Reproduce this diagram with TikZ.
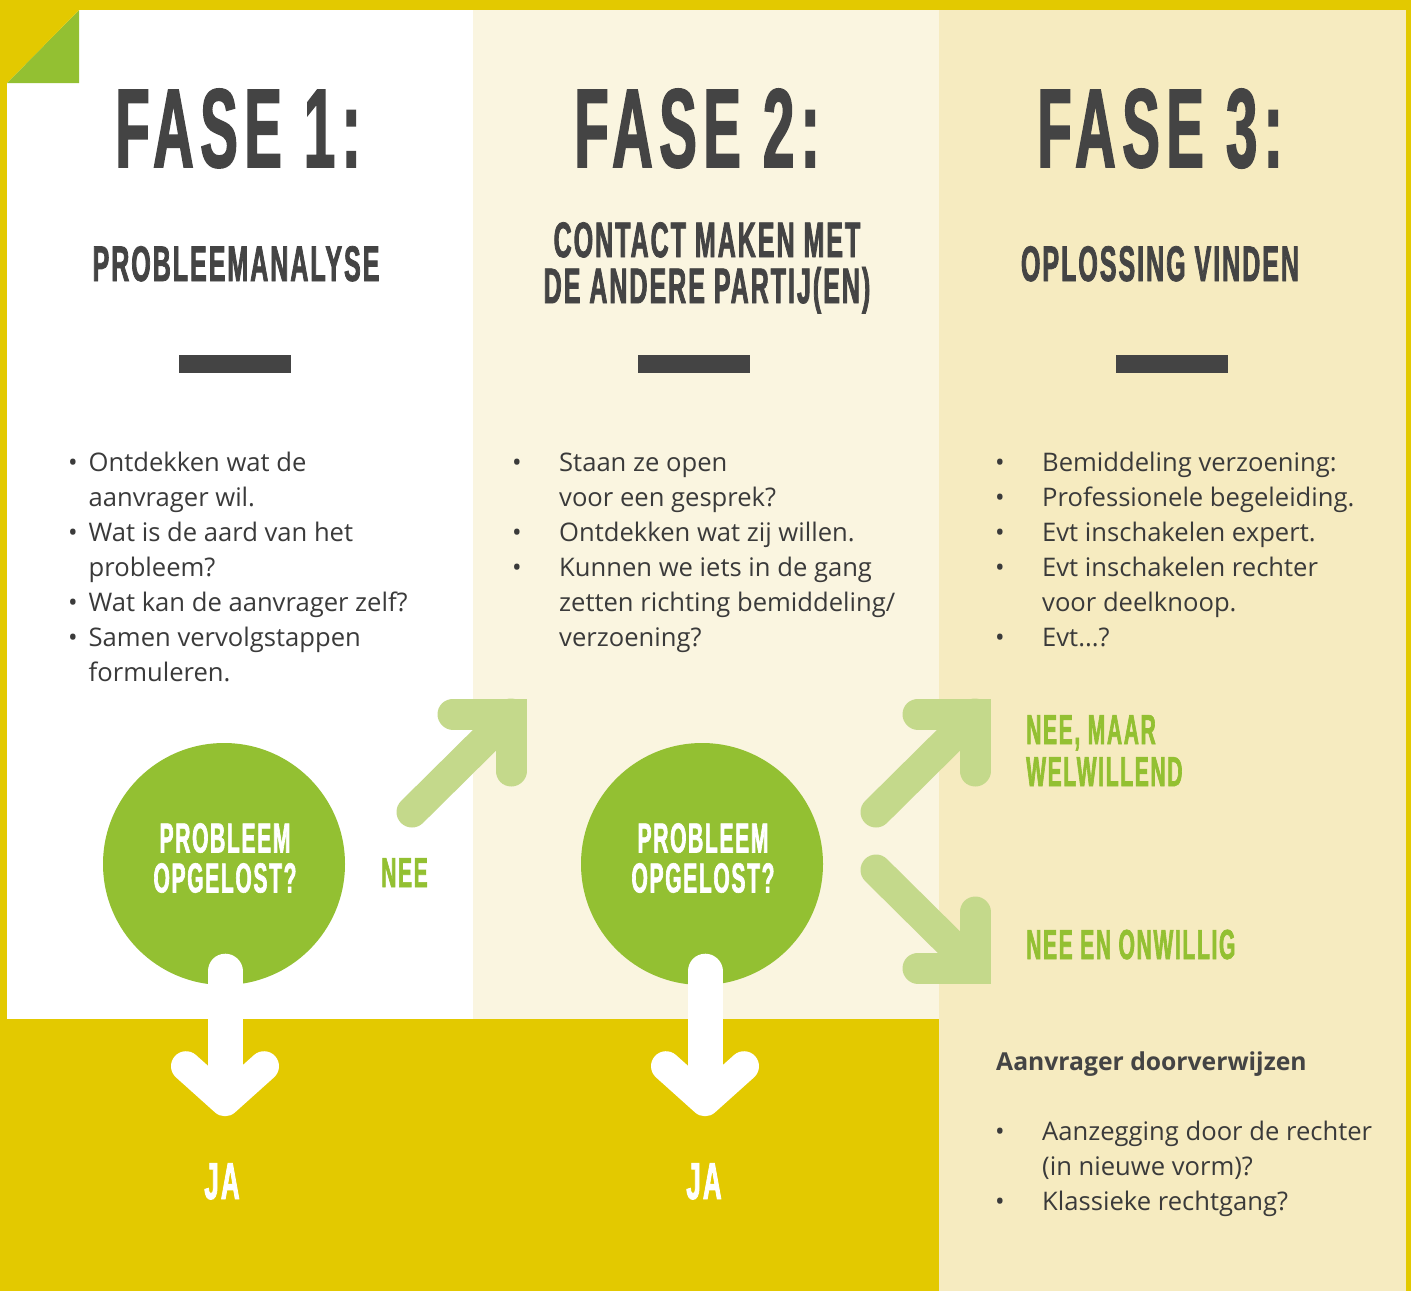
\documentclass[tikz,border=0pt]{standalone}
\usepackage{fontspec}
\setmainfont{Open Sans}
\newfontfamily\headfont{Liberation Sans}[FakeStretch=0.5,FakeBold=1.5,LetterSpace=4]
\usetikzlibrary{calc,positioning}

\definecolor{frame}{HTML}{E3C900}
\definecolor{leaf}{HTML}{93C032}
\definecolor{paleleaf}{HTML}{C4D98B}
\definecolor{cream}{HTML}{FAF5E0}
\definecolor{sand}{HTML}{F6EBC0}
\definecolor{ink}{HTML}{444444}
\definecolor{bodyink}{HTML}{3A3A3A}

\begin{document}
\begin{tikzpicture}[x=1pt,y=-1pt,
	sub/.style={font=\headfont\bfseries\fontsize{50}{46}\selectfont,text=ink,inner sep=0,align=center},
	list/.style={font=\fontsize{25.6}{35}\selectfont,text=bodyink,inner sep=0,anchor=base west},
	circ/.style={circle,fill=leaf,minimum size=242pt,inner sep=0},
	ask/.style={font=\headfont\bfseries\fontsize{42}{40}\selectfont,text=white,inner sep=0,align=center},
	answer/.style={font=\headfont\bfseries\fontsize{42}{42}\selectfont,text=leaf,inner sep=0,align=left},
	yes/.style={font=\headfont\bfseries\fontsize{52}{52}\selectfont,text=white,inner sep=0,anchor=base},
	downstem/.style={white,line width=35pt,line cap=round},
	downhead/.style={white,line width=30pt,line cap=round,line join=round},
	nee arrow/.style={paleleaf,line width=31pt,line cap=round,line join=miter}]
	\useasboundingbox (0,0) rectangle (1411,1291);

	% achtergrond
	\fill[frame] (0,0) rectangle (1411,1291);
	\fill[white] (7,10) rectangle (473,1019);
	\fill[cream] (473,10) rectangle (939,1019);
	\fill[sand] (939,10) rectangle (1406,1291);
	\fill[leaf] (79,10) -- (79,83) -- (7,83) -- cycle;
	\fill[frame] (7,10) -- (79,10) -- (7,83) -- cycle;

	% koppen
	\begin{scope}[every node/.style={font=\headfont\bfseries\fontsize{112}{112}\selectfont\addfontfeatures{LetterSpace=6},text=ink,inner sep=0,anchor=base}]
		\node (fase1) at (238,167) {FASE 1:};
		\node (fase2) at (697,167) {FASE 2:};
		\node (fase3) at (1160,167) {FASE 3:};
	\end{scope}

	\node[sub,anchor=base] (sub1) at (236,281) {PROBLEEMANALYSE};
	\node[sub,anchor=north] (sub2) at (707,222) {CONTACT MAKEN MET\\DE ANDERE PARTIJ(EN)};
	\node[sub,anchor=base] (sub3) at (1160,281) {OPLOSSING VINDEN};

	\fill[ink] (179,355) rectangle (291,373);
	\fill[ink] (638,355) rectangle (750,373);
	\fill[ink] (1116,355) rectangle (1228,373);

	% lijsten
	\node[list] (list1) at (68,471) {\begin{tabular}[t]{@{}p{20.5pt}@{}l@{}}
		• & Ontdekken wat de\\
		  & aanvrager wil.\\
		• & Wat is de aard van het\\
		  & probleem?\\
		• & Wat kan de aanvrager zelf?\\
		• & Samen vervolgstappen\\
		  & formuleren.
	\end{tabular}};
	\node[list] (list2) at (512,471) {\begin{tabular}[t]{@{}p{47pt}@{}l@{}}
		• & Staan ze open\\
		  & voor een gesprek?\\
		• & Ontdekken wat zij willen.\\
		• & Kunnen we iets in de gang\\
		  & zetten richting bemiddeling/\\
		  & verzoening?
	\end{tabular}};
	\node[list] (list3) at (995,471) {\begin{tabular}[t]{@{}p{47pt}@{}l@{}}
		• & Bemiddeling verzoening:\\
		• & Professionele begeleiding.\\
		• & Evt inschakelen expert.\\
		• & Evt inschakelen rechter\\
		  & voor deelknoop.\\
		• & Evt...?
	\end{tabular}};

	% vragen
	\node[circ] (c1) at (224,864) {};
	\node[ask] (q1) at ([yshift=6pt,xshift=1pt]c1.center) {PROBLEEM\\OPGELOST?};
	\node[circ] (c2) at (702,864) {};
	\node[ask] (q2) at ([yshift=6pt,xshift=1pt]c2.center) {PROBLEEM\\OPGELOST?};

	\node[answer,anchor=base west] (nee) at (381,887) {NEE};
	\node[answer,anchor=north west] (ww) at (1026,715) {NEE, MAAR\\WELWILLEND};
	\node[answer,anchor=base west] (ow) at (1026,959) {NEE EN ONWILLIG};

	\node[yes] (ja1) at (222,1199) {JA};
	\node[yes] (ja2) at (704,1199) {JA};

	% pijlen naar beneden
	\coordinate (d1) at ($(c1.south)+(1,116)$);
	\coordinate (d2) at ($(c2.south)+(3,116)$);
	\draw[downstem] ([xshift=1pt,yshift=14pt]c1.south) -- ($(d1)+(0,-20)$);
	\draw[downhead] ($(d1)+(-39,-35)$) -- (d1) -- ($(d1)+(39,-35)$);
	\draw[downstem] ([xshift=3pt,yshift=14pt]c2.south) -- ($(d2)+(0,-20)$);
	\draw[downhead] ($(d2)+(-39,-35)$) -- (d2) -- ($(d2)+(39,-35)$);

	% pijlen nee
	\coordinate (t1) at (412,812);
	\coordinate (e1) at (511,714);
	\coordinate (t2) at (876,812);
	\coordinate (e2) at (975,714);
	\coordinate (t3) at (876,870);
	\coordinate (e3) at (975,968);
	\draw[nee arrow] (t1) -- (e1);
	\draw[nee arrow] ($(e1)+(-58,0)$) -- (e1) -- ($(e1)+(0,57)$);
	\draw[nee arrow] (t2) -- (e2);
	\draw[nee arrow] ($(e2)+(-57,0)$) -- (e2) -- ($(e2)+(0,57)$);
	\draw[nee arrow] (t3) -- (e3);
	\draw[nee arrow] ($(e3)+(-57,0)$) -- (e3) -- ($(e3)+(0,-56)$);

	% doorverwijzen
	\node[font=\bfseries\fontsize{24.7}{35}\selectfont,text=ink,inner sep=0,anchor=base west] (refer) at (996,1070) {Aanvrager doorverwijzen};
	\node[list] (list4) at (995,1140) {\begin{tabular}[t]{@{}p{47pt}@{}l@{}}
		• & Aanzegging door de rechter\\
		  & (in nieuwe vorm)?\\
		• & Klassieke rechtgang?
	\end{tabular}};
\end{tikzpicture}
\end{document}
